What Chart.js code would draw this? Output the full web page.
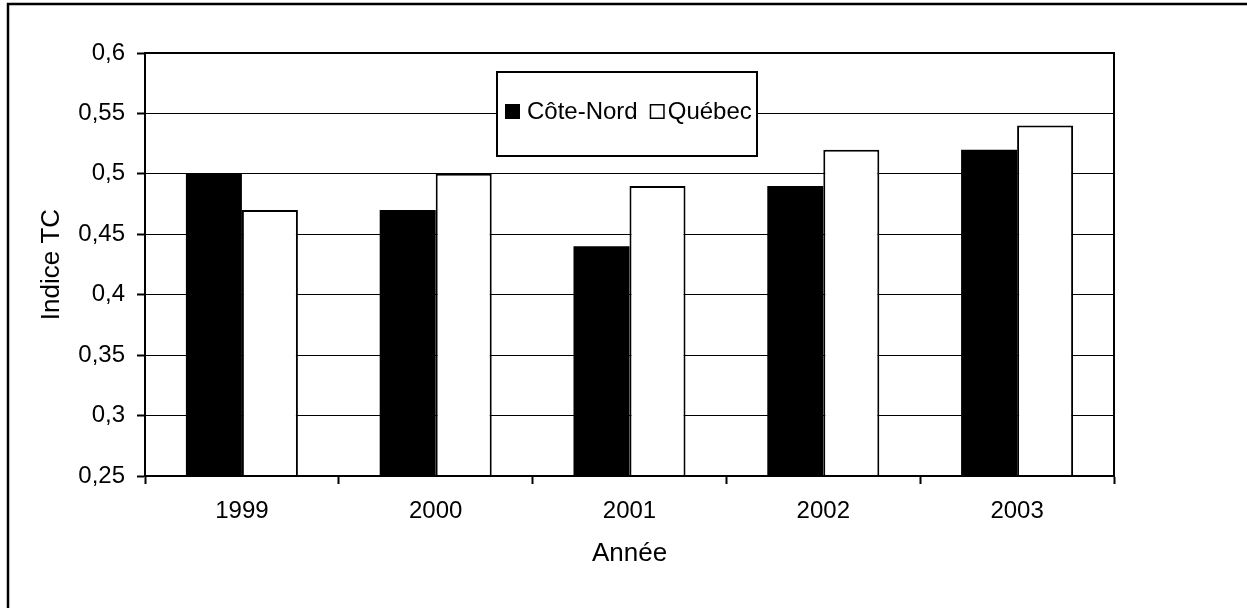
<!DOCTYPE html>
<html>
<head>
<meta charset="utf-8">
<script src="https://cdn.jsdelivr.net/npm/chart.js@4/dist/chart.umd.min.js"></script>
<style>
  html, body { margin: 0; padding: 0; background: #fff; }
  #wrap { position: relative; width: 1247px; height: 608px; }
  canvas { display: block; }
</style>
</head>
<body>
<div id="wrap"><canvas id="c" width="1247" height="608"></canvas></div>
<script>
const categories = ['1999', '2000', '2001', '2002', '2003'];
const coteNord = [0.50, 0.47, 0.44, 0.49, 0.52];
const quebec = [0.47, 0.50, 0.49, 0.52, 0.54];
const yTickValues = [0.25, 0.30, 0.35, 0.40, 0.45, 0.50, 0.55, 0.60];
const seriesLabels = ['Côte-Nord', 'Québec'];
const xTitle = 'Année';
const yTitle = 'Indice TC';

const FONT = "'Liberation Sans', Arial, sans-serif";
Chart.defaults.font.family = FONT;
Chart.defaults.color = '#000';

const framePlugin = {
  id: 'frames',
  beforeDraw(chart) {
    const ctx = chart.ctx;
    ctx.save();
    ctx.fillStyle = '#fff';
    ctx.fillRect(0, 0, chart.width, chart.height);
    ctx.strokeStyle = '#000';
    ctx.lineWidth = 2.5;
    ctx.beginPath();
    ctx.moveTo(8, chart.height + 5);
    ctx.lineTo(8, 4);
    ctx.lineTo(chart.width + 5, 4);
    ctx.stroke();
    ctx.restore();
  },
  afterDatasetsDraw(chart) {
    const ctx = chart.ctx;
    const a = chart.chartArea;
    ctx.save();
    ctx.strokeStyle = '#000';
    ctx.lineWidth = 2;
    ctx.strokeRect(a.left, a.top, a.right - a.left, a.bottom - a.top);
    // legend box
    const bx = 497, by = 72, bw = 260, bh = 84;
    ctx.fillStyle = '#fff';
    ctx.fillRect(bx, by, bw, bh);
    ctx.lineWidth = 2;
    ctx.strokeRect(bx, by, bw, bh);
    ctx.font = '24px ' + FONT;
    ctx.textBaseline = 'middle';
    const cy = 111;
    let x = 505;
    chart.data.datasets.forEach((ds, i) => {
      ctx.fillStyle = ds.backgroundColor;
      ctx.fillRect(x, cy - 7, 15, 15);
      ctx.lineWidth = 1.5;
      ctx.strokeStyle = '#000';
      ctx.strokeRect(x + 0.75, cy - 6.25, 13.5, 13.5);
      ctx.fillStyle = '#000';
      const tx = x + 15 + (i === 0 ? 7 : 3);
      ctx.fillText(ds.label, tx, cy + 1);
      x = tx + ctx.measureText(ds.label).width + 12;
    });
    ctx.restore();
  }
};

new Chart(document.getElementById('c'), {
  type: 'bar',
  data: {
    labels: categories,
    datasets: [
      { label: seriesLabels[0], data: coteNord, backgroundColor: '#000', borderColor: '#000', borderWidth: 0 },
      { label: seriesLabels[1], data: quebec, backgroundColor: '#fff', borderColor: '#000', borderWidth: 2, borderSkipped: false }
    ]
  },
  options: {
    responsive: false,
    animation: false,
    events: [],
    layout: { padding: { left: 0, top: 53, right: 133, bottom: 0 } },
    datasets: { bar: { categoryPercentage: 0.578, barPercentage: 1 } },
    plugins: { legend: { display: false }, tooltip: { enabled: false } },
    scales: {
      x: {
        afterFit(s) { s.height = 132; },
        grid: { display: true, drawOnChartArea: false, drawTicks: true, tickLength: 8, tickWidth: 2, tickColor: '#000', offset: true },
        border: { display: true, color: '#000', width: 2 },
        ticks: { font: { size: 24 }, color: '#000', padding: 13, maxRotation: 0 },
        title: { display: true, text: xTitle, font: { size: 26 }, color: '#000', padding: { top: 0, bottom: 39 } }
      },
      y: {
        min: 0.25, max: 0.6,
        afterFit(s) { s.width = 145; },
        afterBuildTicks(s) { s.ticks = yTickValues.map(v => ({ value: v })); },
        grid: { color: '#000', lineWidth: 1, drawTicks: true, tickLength: 8, tickWidth: 2, tickColor: '#000' },
        border: { display: true, color: '#000', width: 2 },
        ticks: {
          font: { size: 24 }, color: '#000', padding: 12,
          callback: v => String(Math.round(v * 100) / 100).replace('.', ',')
        },
        title: { display: true, text: yTitle, font: { size: 26 }, color: '#000', padding: { top: 36, bottom: 0 } }
      }
    }
  },
  plugins: [framePlugin]
});
</script>
</body>
</html>
